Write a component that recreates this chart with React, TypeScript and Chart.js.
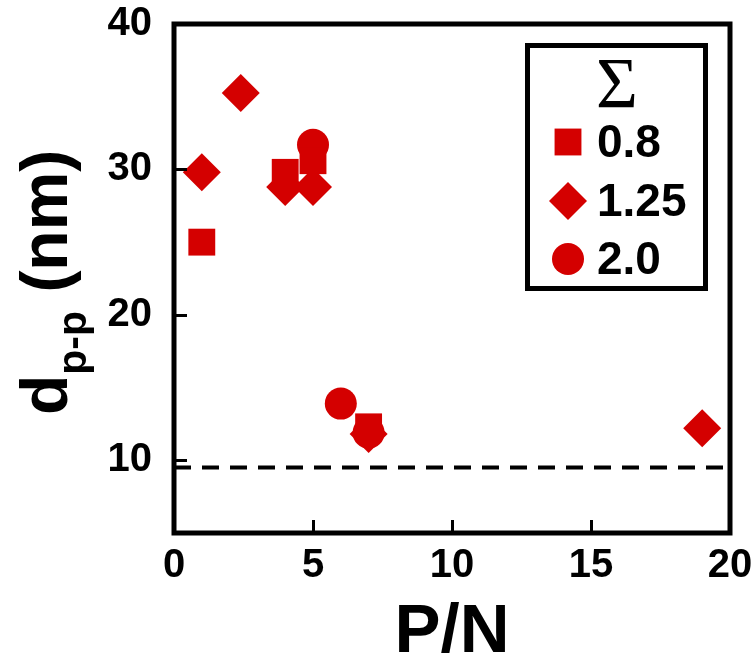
import React, { useEffect, useRef } from "react";
import { Chart, registerables } from "chart.js";

Chart.register(...registerables);

// Σ series (legend labels) and their (P/N, d_p-p) measurements
const sigmaLabels = ["0.8", "1.25", "2.0"];
const sigma08PN = [1, 4, 5, 7];
const sigma08D = [25.0, 29.8, 30.6, 12.3];
const sigma125PN = [1, 2.4, 4, 5, 7, 19];
const sigma125D = [29.8, 35.25, 28.8, 28.8, 11.8, 12.2];
const sigma20PN = [5, 6, 7];
const sigma20D = [31.7, 13.9, 11.9];

// dashed reference level
const limitPN = [0, 20];
const limitD = [9.5, 9.5];

const xTickValues = [0, 5, 10, 15, 20];
const yTickValues = [10, 20, 30, 40];

const RED = "#d40000";
const SANS = "'Liberation Sans', Arial, sans-serif";
const SERIF = "'Liberation Serif', 'Times New Roman', serif";

const pts = (xs: number[], ys: number[]) => xs.map((x, i) => ({ x, y: ys[i] }));

function drawMarker(ctx: CanvasRenderingContext2D, style: string, x: number, y: number, r: number) {
  ctx.beginPath();
  if (style === "rect") {
    const s = r * Math.SQRT1_2;
    ctx.rect(x - s, y - s, 2 * s, 2 * s);
  } else if (style === "rectRot") {
    ctx.moveTo(x - r, y);
    ctx.lineTo(x, y - r);
    ctx.lineTo(x + r, y);
    ctx.lineTo(x, y + r);
    ctx.closePath();
  } else {
    ctx.arc(x, y, r, 0, Math.PI * 2);
  }
  ctx.fill();
}

const decorations = {
  id: "decorations",
  afterDraw(chart: any) {
    const { ctx, chartArea: a, scales } = chart;
    const xs = scales.x;
    const ys = scales.y;
    ctx.save();

    // box frame
    ctx.strokeStyle = "#000";
    ctx.lineWidth = 5;
    ctx.strokeRect(a.left, a.top, a.right - a.left, a.bottom - a.top);

    // inward tick marks
    ctx.lineWidth = 3;
    ctx.beginPath();
    yTickValues.forEach((v) => {
      const py = Math.round(ys.getPixelForValue(v)) + 0.5;
      ctx.moveTo(a.left, py);
      ctx.lineTo(a.left + 13, py);
    });
    xTickValues.forEach((v) => {
      const px = Math.round(xs.getPixelForValue(v)) + 0.5;
      ctx.moveTo(px, a.bottom);
      ctx.lineTo(px, a.bottom - 13);
    });
    ctx.stroke();

    // x axis title
    ctx.fillStyle = "#000";
    ctx.font = `bold 69px ${SANS}`;
    ctx.textAlign = "center";
    ctx.textBaseline = "alphabetic";
    ctx.fillText("P/N", (a.left + a.right) / 2, 652);

    // y axis title with subscript
    ctx.save();
    ctx.translate(67, 415);
    ctx.rotate(-Math.PI / 2);
    ctx.textAlign = "left";
    ctx.font = `bold 66px ${SANS}`;
    ctx.fillText("d", 0, 0);
    let w = ctx.measureText("d").width;
    ctx.font = `bold 41px ${SANS}`;
    ctx.fillText("p-p", w, 19);
    w += ctx.measureText("p-p").width;
    ctx.font = `bold 66px ${SANS}`;
    ctx.fillText(" (nm)", w, 0);
    ctx.restore();

    // legend box
    const bx = 527.5, by = 45.5, bw = 178, bh = 243;
    ctx.fillStyle = "#fff";
    ctx.fillRect(bx, by, bw, bh);
    ctx.lineWidth = 5;
    ctx.strokeStyle = "#000";
    ctx.strokeRect(bx, by, bw, bh);

    ctx.fillStyle = "#000";
    ctx.font = `72px ${SERIF}`;
    ctx.textAlign = "center";
    ctx.textBaseline = "alphabetic";
    ctx.fillText("Σ", 617, 107);

    const rows = [142, 201, 259];
    chart.data.datasets.slice(0, 3).forEach((ds: any, i: number) => {
      ctx.fillStyle = ds.backgroundColor;
      drawMarker(ctx, ds.pointStyle, 568, rows[i], ds.pointRadius);
      ctx.fillStyle = "#000";
      ctx.font = `bold 46px ${SANS}`;
      ctx.textAlign = "left";
      ctx.textBaseline = "middle";
      ctx.fillText(ds.label, 597, rows[i] + 2);
    });

    ctx.restore();
  },
};

export default function App() {
  const ref = useRef<HTMLCanvasElement>(null);

  useEffect(() => {
    document.body.style.margin = "0";
    const canvas = ref.current;
    if (!canvas) return;
    const tickFont = { family: SANS, weight: "bold" as const, size: 40 };
    const chart = new Chart(canvas, {
      type: "scatter",
      data: {
        datasets: [
          {
            label: sigmaLabels[0],
            data: pts(sigma08PN, sigma08D),
            pointStyle: "rect",
            pointRadius: 19,
            backgroundColor: RED,
            borderWidth: 0,
            order: 1,
          },
          {
            label: sigmaLabels[1],
            data: pts(sigma125PN, sigma125D),
            pointStyle: "rectRot",
            pointRadius: 19,
            backgroundColor: RED,
            borderWidth: 0,
            order: 1,
          },
          {
            label: sigmaLabels[2],
            data: pts(sigma20PN, sigma20D),
            pointStyle: "circle",
            pointRadius: 16,
            backgroundColor: RED,
            borderWidth: 0,
            order: 1,
          },
          {
            label: "",
            data: pts(limitPN, limitD),
            showLine: true,
            borderColor: "#000",
            borderWidth: 4,
            borderDash: [17, 11],
            pointRadius: 0,
            order: 2,
          } as any,
        ],
      },
      options: {
        responsive: false,
        animation: false,
        events: [],
        layout: { padding: { top: 24, right: 26, left: 0, bottom: 0 } },
        plugins: { legend: { display: false }, tooltip: { enabled: false } },
        scales: {
          x: {
            type: "linear",
            min: 0,
            max: 20,
            border: { display: false },
            grid: { display: false },
            afterBuildTicks: (s: any) => {
              s.ticks = xTickValues.map((v) => ({ value: v }));
            },
            afterFit: (s: any) => {
              s.height = 126;
              s.paddingLeft = 0;
              s.paddingRight = 0;
            },
            ticks: { font: tickFont, color: "#000", padding: 1, maxRotation: 0, autoSkip: false },
          },
          y: {
            type: "linear",
            min: 5,
            max: 40,
            border: { display: false },
            grid: { display: false },
            afterBuildTicks: (s: any) => {
              s.ticks = yTickValues.map((v) => ({ value: v }));
            },
            afterFit: (s: any) => {
              s.width = 174;
              s.paddingTop = 0;
              s.paddingBottom = 0;
            },
            ticks: { font: tickFont, color: "#000", padding: 14, autoSkip: false },
          },
        },
      },
      plugins: [decorations],
    });
    return () => chart.destroy();
  }, []);

  return (
    <div style={{ width: 756, height: 659 }}>
      <canvas ref={ref} width={756} height={659} />
    </div>
  );
}
